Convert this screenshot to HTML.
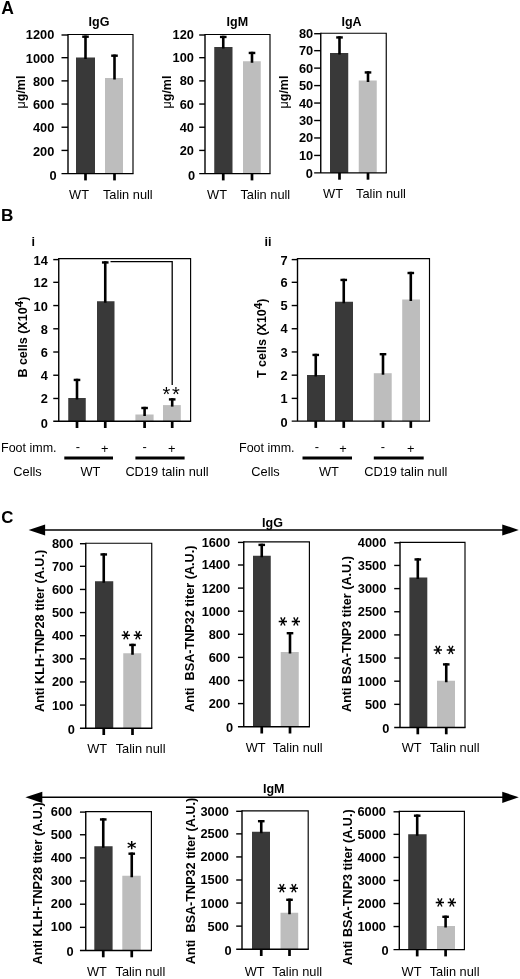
<!DOCTYPE html>
<html><head><meta charset="utf-8"><title>Figure</title>
<style>html,body{margin:0;padding:0;background:#fff}svg{display:block}</style></head>
<body>
<svg width="520" height="979" viewBox="0 0 520 979" font-family="'Liberation Sans', sans-serif" fill="#000">
<rect width="520" height="979" fill="#fff"/>
<text font-size="17.5" font-weight="bold" x="1.3" y="13.6">A</text>
<rect x="68" y="34.5" width="65" height="139.1" fill="#fff" stroke="none"/>
<rect x="76" y="57.5" width="19" height="116.1" fill="#393939"/>
<rect x="105" y="78" width="18" height="95.6" fill="#bdbdbd"/>
<path d="M85.5 59.0V35.5" stroke="#000" stroke-width="2.6" fill="none"/>
<path d="M82.2 36.7H88.8" stroke="#000" stroke-width="2.4" fill="none"/>
<path d="M85.5 173.6V180.4" stroke="#000" stroke-width="2.7" fill="none"/>
<path d="M114.5 79.5V54.5" stroke="#000" stroke-width="2.6" fill="none"/>
<path d="M111.2 55.7H117.8" stroke="#000" stroke-width="2.4" fill="none"/>
<path d="M114.5 173.6V180.4" stroke="#000" stroke-width="2.7" fill="none"/>
<path d="M68 34.5H133V173.6" stroke="#000" stroke-width="1.15" fill="none"/>
<path d="M68 173.6V33.93" stroke="#000" stroke-width="1.4" fill="none"/>
<path d="M61.5 173.6H133.57" stroke="#000" stroke-width="1.4" fill="none"/>
<path d="M61.5 35.0H68" stroke="#000" stroke-width="1.4" fill="none"/>
<text font-size="12.8" font-weight="bold" text-anchor="end" x="54.3" y="39.35">1200</text>
<path d="M61.5 57.68H68" stroke="#000" stroke-width="1.4" fill="none"/>
<text font-size="12.8" font-weight="bold" text-anchor="end" x="54.3" y="62.83">1000</text>
<path d="M61.5 80.87H68" stroke="#000" stroke-width="1.4" fill="none"/>
<text font-size="12.8" font-weight="bold" text-anchor="end" x="54.3" y="86.02">800</text>
<path d="M61.5 104.05H68" stroke="#000" stroke-width="1.4" fill="none"/>
<text font-size="12.8" font-weight="bold" text-anchor="end" x="54.3" y="109.2">600</text>
<path d="M61.5 127.23H68" stroke="#000" stroke-width="1.4" fill="none"/>
<text font-size="12.8" font-weight="bold" text-anchor="end" x="54.3" y="132.38">400</text>
<path d="M61.5 150.42H68" stroke="#000" stroke-width="1.4" fill="none"/>
<text font-size="12.8" font-weight="bold" text-anchor="end" x="54.3" y="155.57">200</text>
<text font-size="12.8" font-weight="bold" text-anchor="end" x="56.6" y="179.65">0</text>
<text font-size="12.5" font-weight="bold" text-anchor="middle" x="99" y="25.6">IgG</text>
<text font-size="12.5" font-weight="bold" text-anchor="middle" transform="translate(25 92) rotate(-90)"><tspan font-weight="normal">μ</tspan>g/ml</text>
<text font-size="12.8" text-anchor="middle" x="79" y="198.5">WT</text>
<text font-size="12.8" text-anchor="middle" x="127.8" y="198.5">Talin null</text>
<rect x="205" y="34.5" width="65" height="139.1" fill="#fff" stroke="none"/>
<rect x="214.25" y="47" width="18.25" height="126.6" fill="#393939"/>
<rect x="243" y="61.25" width="17.75" height="112.35" fill="#bdbdbd"/>
<path d="M223.25 48.5V35.75" stroke="#000" stroke-width="2.6" fill="none"/>
<path d="M219.95 36.95H226.55" stroke="#000" stroke-width="2.4" fill="none"/>
<path d="M223.25 173.6V180.4" stroke="#000" stroke-width="2.7" fill="none"/>
<path d="M252 62.75V51.75" stroke="#000" stroke-width="2.6" fill="none"/>
<path d="M248.7 52.95H255.3" stroke="#000" stroke-width="2.4" fill="none"/>
<path d="M252 173.6V180.4" stroke="#000" stroke-width="2.7" fill="none"/>
<path d="M205 34.5H270V173.6" stroke="#000" stroke-width="1.15" fill="none"/>
<path d="M205 173.6V33.93" stroke="#000" stroke-width="1.4" fill="none"/>
<path d="M199.2 173.6H270.57" stroke="#000" stroke-width="1.4" fill="none"/>
<path d="M199.2 35.0H205" stroke="#000" stroke-width="1.4" fill="none"/>
<text font-size="12.8" font-weight="bold" text-anchor="end" x="193.9" y="39.45">120</text>
<path d="M199.2 57.68H205" stroke="#000" stroke-width="1.4" fill="none"/>
<text font-size="12.8" font-weight="bold" text-anchor="end" x="193.9" y="62.13">100</text>
<path d="M199.2 80.87H205" stroke="#000" stroke-width="1.4" fill="none"/>
<text font-size="12.8" font-weight="bold" text-anchor="end" x="193.9" y="85.32">80</text>
<path d="M199.2 104.05H205" stroke="#000" stroke-width="1.4" fill="none"/>
<text font-size="12.8" font-weight="bold" text-anchor="end" x="193.9" y="108.5">60</text>
<path d="M199.2 127.23H205" stroke="#000" stroke-width="1.4" fill="none"/>
<text font-size="12.8" font-weight="bold" text-anchor="end" x="193.9" y="131.68">40</text>
<path d="M199.2 150.42H205" stroke="#000" stroke-width="1.4" fill="none"/>
<text font-size="12.8" font-weight="bold" text-anchor="end" x="193.9" y="154.87">20</text>
<text font-size="12.8" font-weight="bold" text-anchor="end" x="195.2" y="179.55">0</text>
<text font-size="12.5" font-weight="bold" text-anchor="middle" x="237.3" y="25.6">IgM</text>
<text font-size="12.5" font-weight="bold" text-anchor="middle" transform="translate(171 92) rotate(-90)"><tspan font-weight="normal">μ</tspan>g/ml</text>
<text font-size="12.8" text-anchor="middle" x="217" y="198.5">WT</text>
<text font-size="12.8" text-anchor="middle" x="265.3" y="198.5">Talin null</text>
<rect x="320.75" y="33.2" width="65.5" height="139.7" fill="#fff" stroke="none"/>
<rect x="330" y="53" width="18.25" height="119.9" fill="#393939"/>
<rect x="358.75" y="80.5" width="18.0" height="92.4" fill="#bdbdbd"/>
<path d="M339.5 54.5V36.25" stroke="#000" stroke-width="2.6" fill="none"/>
<path d="M336.2 37.45H342.8" stroke="#000" stroke-width="2.4" fill="none"/>
<path d="M339.5 172.9V179.7" stroke="#000" stroke-width="2.7" fill="none"/>
<path d="M368 82.0V71.25" stroke="#000" stroke-width="2.6" fill="none"/>
<path d="M364.7 72.45H371.3" stroke="#000" stroke-width="2.4" fill="none"/>
<path d="M368 172.9V179.7" stroke="#000" stroke-width="2.7" fill="none"/>
<path d="M320.75 33.2H386.25V172.9" stroke="#000" stroke-width="1.15" fill="none"/>
<path d="M320.75 172.9V32.63" stroke="#000" stroke-width="1.4" fill="none"/>
<path d="M314.15 172.9H386.82" stroke="#000" stroke-width="1.4" fill="none"/>
<path d="M314.15 33.7H320.75" stroke="#000" stroke-width="1.4" fill="none"/>
<text font-size="12.8" font-weight="bold" text-anchor="end" x="313.2" y="38.15">80</text>
<path d="M314.15 50.66H320.75" stroke="#000" stroke-width="1.4" fill="none"/>
<text font-size="12.8" font-weight="bold" text-anchor="end" x="313.2" y="55.11">70</text>
<path d="M314.15 68.12H320.75" stroke="#000" stroke-width="1.4" fill="none"/>
<text font-size="12.8" font-weight="bold" text-anchor="end" x="313.2" y="72.58">60</text>
<path d="M314.15 85.59H320.75" stroke="#000" stroke-width="1.4" fill="none"/>
<text font-size="12.8" font-weight="bold" text-anchor="end" x="313.2" y="90.04">50</text>
<path d="M314.15 103.05H320.75" stroke="#000" stroke-width="1.4" fill="none"/>
<text font-size="12.8" font-weight="bold" text-anchor="end" x="313.2" y="107.5">40</text>
<path d="M314.15 120.51H320.75" stroke="#000" stroke-width="1.4" fill="none"/>
<text font-size="12.8" font-weight="bold" text-anchor="end" x="313.2" y="124.96">30</text>
<path d="M314.15 137.97H320.75" stroke="#000" stroke-width="1.4" fill="none"/>
<text font-size="12.8" font-weight="bold" text-anchor="end" x="313.2" y="142.42">20</text>
<path d="M314.15 155.44H320.75" stroke="#000" stroke-width="1.4" fill="none"/>
<text font-size="12.8" font-weight="bold" text-anchor="end" x="313.2" y="159.89">10</text>
<text font-size="12.8" font-weight="bold" text-anchor="end" x="312.9" y="178.05">0</text>
<text font-size="12.5" font-weight="bold" text-anchor="middle" x="351.6" y="25.6">IgA</text>
<text font-size="12.5" font-weight="bold" text-anchor="middle" transform="translate(287.5 92) rotate(-90)"><tspan font-weight="normal">μ</tspan>g/ml</text>
<text font-size="12.8" text-anchor="middle" x="333" y="197.5">WT</text>
<text font-size="12.8" text-anchor="middle" x="381" y="197.5">Talin null</text>
<text font-size="17.2" font-weight="bold" x="1.0" y="220.7">B</text>
<text font-size="12.5" font-weight="bold" x="31.5" y="246.3">i</text>
<text font-size="12.5" font-weight="bold" x="264.5" y="246.3">ii</text>
<rect x="58.75" y="258.6" width="131.85" height="162.6" fill="#fff" stroke="none"/>
<rect x="68.25" y="398" width="17.5" height="23.2" fill="#393939"/>
<rect x="97" y="301.25" width="17.5" height="119.95" fill="#393939"/>
<rect x="135.4" y="414.5" width="18.2" height="6.7" fill="#bdbdbd"/>
<rect x="163" y="405.1" width="17.8" height="16.1" fill="#bdbdbd"/>
<path d="M77 399.5V378.75" stroke="#000" stroke-width="2.6" fill="none"/>
<path d="M73.7 379.95H80.3" stroke="#000" stroke-width="2.4" fill="none"/>
<path d="M77 421.2V428.0" stroke="#000" stroke-width="2.7" fill="none"/>
<path d="M105.25 302.75V261.25" stroke="#000" stroke-width="2.6" fill="none"/>
<path d="M101.95 262.45H108.55" stroke="#000" stroke-width="2.4" fill="none"/>
<path d="M105.25 421.2V428.0" stroke="#000" stroke-width="2.7" fill="none"/>
<path d="M144.6 416.0V406.8" stroke="#000" stroke-width="2.6" fill="none"/>
<path d="M141.3 408.0H147.9" stroke="#000" stroke-width="2.4" fill="none"/>
<path d="M144.6 421.2V428.0" stroke="#000" stroke-width="2.7" fill="none"/>
<path d="M172.2 406.6V398.2" stroke="#000" stroke-width="2.6" fill="none"/>
<path d="M168.9 399.4H175.5" stroke="#000" stroke-width="2.4" fill="none"/>
<path d="M172.2 421.2V428.0" stroke="#000" stroke-width="2.7" fill="none"/>
<path d="M58.75 258.6H190.6V421.2" stroke="#000" stroke-width="1.15" fill="none"/>
<path d="M58.75 421.2V258.03" stroke="#000" stroke-width="1.4" fill="none"/>
<path d="M53.25 421.2H191.17" stroke="#000" stroke-width="1.4" fill="none"/>
<path d="M53.25 259.6H58.75" stroke="#000" stroke-width="1.4" fill="none"/>
<text font-size="12.8" font-weight="bold" text-anchor="end" x="47.8" y="265.45">14</text>
<path d="M53.25 282.33H58.75" stroke="#000" stroke-width="1.4" fill="none"/>
<text font-size="12.8" font-weight="bold" text-anchor="end" x="47.8" y="287.28">12</text>
<path d="M53.25 305.56H58.75" stroke="#000" stroke-width="1.4" fill="none"/>
<text font-size="12.8" font-weight="bold" text-anchor="end" x="47.8" y="310.51">10</text>
<path d="M53.25 328.79H58.75" stroke="#000" stroke-width="1.4" fill="none"/>
<text font-size="12.8" font-weight="bold" text-anchor="end" x="47.8" y="333.74">8</text>
<path d="M53.25 352.01H58.75" stroke="#000" stroke-width="1.4" fill="none"/>
<text font-size="12.8" font-weight="bold" text-anchor="end" x="47.8" y="356.96">6</text>
<path d="M53.25 375.24H58.75" stroke="#000" stroke-width="1.4" fill="none"/>
<text font-size="12.8" font-weight="bold" text-anchor="end" x="47.8" y="380.19">4</text>
<path d="M53.25 398.47H58.75" stroke="#000" stroke-width="1.4" fill="none"/>
<text font-size="12.8" font-weight="bold" text-anchor="end" x="47.8" y="403.42">2</text>
<text font-size="12.8" font-weight="bold" text-anchor="end" x="47.8" y="427.55">0</text>
<path d="M110.5 261.6H172.2V385" stroke="#000" stroke-width="1.3" fill="none"/>
<rect x="297.5" y="258.6" width="132.0" height="162.5" fill="#fff" stroke="none"/>
<rect x="307" y="375" width="18" height="46.1" fill="#393939"/>
<rect x="335" y="301.75" width="18" height="119.35" fill="#393939"/>
<rect x="373.8" y="373.2" width="17.9" height="47.9" fill="#bdbdbd"/>
<rect x="402.2" y="299.5" width="17.8" height="121.6" fill="#bdbdbd"/>
<path d="M315.75 376.5V353.75" stroke="#000" stroke-width="2.6" fill="none"/>
<path d="M312.45 354.95H319.05" stroke="#000" stroke-width="2.4" fill="none"/>
<path d="M315.75 421.1V427.9" stroke="#000" stroke-width="2.7" fill="none"/>
<path d="M343.75 303.25V278.75" stroke="#000" stroke-width="2.6" fill="none"/>
<path d="M340.45 279.95H347.05" stroke="#000" stroke-width="2.4" fill="none"/>
<path d="M343.75 421.1V427.9" stroke="#000" stroke-width="2.7" fill="none"/>
<path d="M383 374.7V353" stroke="#000" stroke-width="2.6" fill="none"/>
<path d="M379.7 354.2H386.3" stroke="#000" stroke-width="2.4" fill="none"/>
<path d="M383 421.1V427.9" stroke="#000" stroke-width="2.7" fill="none"/>
<path d="M410.8 301.0V271.8" stroke="#000" stroke-width="2.6" fill="none"/>
<path d="M407.5 273.0H414.1" stroke="#000" stroke-width="2.4" fill="none"/>
<path d="M410.8 421.1V427.9" stroke="#000" stroke-width="2.7" fill="none"/>
<path d="M297.5 258.6H429.5V421.1" stroke="#000" stroke-width="1.15" fill="none"/>
<path d="M297.5 421.1V258.03" stroke="#000" stroke-width="1.4" fill="none"/>
<path d="M291.7 421.1H430.07" stroke="#000" stroke-width="1.4" fill="none"/>
<path d="M291.7 259.6H297.5" stroke="#000" stroke-width="1.4" fill="none"/>
<text font-size="12.8" font-weight="bold" text-anchor="end" x="287.6" y="265.25">7</text>
<path d="M291.7 282.31H297.5" stroke="#000" stroke-width="1.4" fill="none"/>
<text font-size="12.8" font-weight="bold" text-anchor="end" x="287.6" y="287.06">6</text>
<path d="M291.7 305.53H297.5" stroke="#000" stroke-width="1.4" fill="none"/>
<text font-size="12.8" font-weight="bold" text-anchor="end" x="287.6" y="310.28">5</text>
<path d="M291.7 328.74H297.5" stroke="#000" stroke-width="1.4" fill="none"/>
<text font-size="12.8" font-weight="bold" text-anchor="end" x="287.6" y="333.49">4</text>
<path d="M291.7 351.96H297.5" stroke="#000" stroke-width="1.4" fill="none"/>
<text font-size="12.8" font-weight="bold" text-anchor="end" x="287.6" y="356.71">3</text>
<path d="M291.7 375.17H297.5" stroke="#000" stroke-width="1.4" fill="none"/>
<text font-size="12.8" font-weight="bold" text-anchor="end" x="287.6" y="379.92">2</text>
<path d="M291.7 398.39H297.5" stroke="#000" stroke-width="1.4" fill="none"/>
<text font-size="12.8" font-weight="bold" text-anchor="end" x="287.6" y="403.14">1</text>
<text font-size="12.8" font-weight="bold" text-anchor="end" x="287.6" y="427.25">0</text>
<text font-size="12.5" x="1.0" y="452">Foot imm.</text>
<text font-size="12.8" x="13.3" y="475.6">Cells</text>
<text font-size="12.8" text-anchor="middle" x="77.8" y="451.3">-</text>
<text font-size="12.8" text-anchor="middle" x="104.8" y="452.6">+</text>
<text font-size="12.8" text-anchor="middle" x="144.6" y="451.3">-</text>
<text font-size="12.8" text-anchor="middle" x="171.7" y="452.6">+</text>
<path d="M64.3 458H113" stroke="#000" stroke-width="3"/>
<path d="M135.4 458H184.6" stroke="#000" stroke-width="3"/>
<text font-size="12.8" text-anchor="middle" x="90.35000000000001" y="475.6">WT</text>
<text font-size="12.8" text-anchor="middle" x="167" y="475.6">CD19 talin null</text>
<text font-size="12.5" x="239" y="452">Foot imm.</text>
<text font-size="12.8" x="251.3" y="475.6">Cells</text>
<text font-size="12.8" text-anchor="middle" x="317" y="451.3">-</text>
<text font-size="12.8" text-anchor="middle" x="343" y="452.6">+</text>
<text font-size="12.8" text-anchor="middle" x="383" y="451.3">-</text>
<text font-size="12.8" text-anchor="middle" x="410.8" y="452.6">+</text>
<path d="M302.5 458H352" stroke="#000" stroke-width="3"/>
<path d="M373.8 458H423.7" stroke="#000" stroke-width="3"/>
<text font-size="12.8" text-anchor="middle" x="328.95" y="475.6">WT</text>
<text font-size="12.8" text-anchor="middle" x="405.8" y="475.6">CD19 talin null</text>
<text transform="translate(27 377.6) rotate(-90)" font-size="12.5" font-weight="bold">B cells (X10<tspan font-size="11.8" dy="-3.7">4</tspan><tspan dy="3.7">)</tspan></text>
<text transform="translate(266 378) rotate(-90)" font-size="12.5" font-weight="bold">T cells (X10<tspan font-size="11.8" dy="-3.7">4</tspan><tspan dy="3.7">)</tspan></text>
<text x="162.6 171.9" y="401.2" font-size="20">**</text>
<text font-size="16.8" font-weight="bold" x="1.3" y="522.9">C</text>
<path d="M44.1 530H503.25" stroke="#000" stroke-width="1.5" fill="none"/>
<path d="M28.6 530L45.1 524.4V535.6Z" fill="#000"/>
<path d="M518.75 530L502.25 524.4V535.6Z" fill="#000"/>
<text font-size="12.5" font-weight="bold" text-anchor="middle" x="272.5" y="527">IgG</text>
<rect x="85.75" y="543.2" width="66.0" height="185.0" fill="#fff" stroke="none"/>
<rect x="95" y="581.25" width="18.25" height="146.95" fill="#393939"/>
<rect x="123.25" y="653.25" width="18.0" height="74.95" fill="#bdbdbd"/>
<path d="M103.75 582.75V553.25" stroke="#000" stroke-width="2.6" fill="none"/>
<path d="M100.45 554.45H107.05" stroke="#000" stroke-width="2.4" fill="none"/>
<path d="M103.75 728.2V735.0" stroke="#000" stroke-width="2.7" fill="none"/>
<path d="M132.5 654.75V643.75" stroke="#000" stroke-width="2.6" fill="none"/>
<path d="M129.2 644.95H135.8" stroke="#000" stroke-width="2.4" fill="none"/>
<path d="M132.5 728.2V735.0" stroke="#000" stroke-width="2.7" fill="none"/>
<path d="M85.75 543.2H151.75V728.2" stroke="#000" stroke-width="1.15" fill="none"/>
<path d="M85.75 728.2V542.63" stroke="#000" stroke-width="1.4" fill="none"/>
<path d="M79.95 728.2H152.32" stroke="#000" stroke-width="1.4" fill="none"/>
<path d="M79.95 543.7H85.75" stroke="#000" stroke-width="1.4" fill="none"/>
<text font-size="12.8" font-weight="bold" text-anchor="end" x="73.3" y="548.15">800</text>
<path d="M79.95 566.33H85.75" stroke="#000" stroke-width="1.4" fill="none"/>
<text font-size="12.8" font-weight="bold" text-anchor="end" x="73.3" y="570.78">700</text>
<path d="M79.95 589.45H85.75" stroke="#000" stroke-width="1.4" fill="none"/>
<text font-size="12.8" font-weight="bold" text-anchor="end" x="73.3" y="593.9">600</text>
<path d="M79.95 612.58H85.75" stroke="#000" stroke-width="1.4" fill="none"/>
<text font-size="12.8" font-weight="bold" text-anchor="end" x="73.3" y="617.03">500</text>
<path d="M79.95 635.7H85.75" stroke="#000" stroke-width="1.4" fill="none"/>
<text font-size="12.8" font-weight="bold" text-anchor="end" x="73.3" y="640.15">400</text>
<path d="M79.95 658.83H85.75" stroke="#000" stroke-width="1.4" fill="none"/>
<text font-size="12.8" font-weight="bold" text-anchor="end" x="73.3" y="663.28">300</text>
<path d="M79.95 681.95H85.75" stroke="#000" stroke-width="1.4" fill="none"/>
<text font-size="12.8" font-weight="bold" text-anchor="end" x="73.3" y="686.4">200</text>
<path d="M79.95 705.08H85.75" stroke="#000" stroke-width="1.4" fill="none"/>
<text font-size="12.8" font-weight="bold" text-anchor="end" x="73.3" y="709.53">100</text>
<text font-size="12.8" font-weight="bold" text-anchor="end" x="74.8" y="733.85">0</text>
<text transform="translate(43.8 712) rotate(-90)" font-size="12.65" font-weight="bold" xml:space="preserve">Anti KLH-TNP28 titer (A.U.)</text>
<text font-size="12.8" text-anchor="middle" x="97.2" y="752.8">WT</text>
<text font-size="12.8" text-anchor="middle" x="140.6" y="752.8">Talin null</text>
<text x="116.72 129.12" y="630.61" rotate="90" font-family="'DejaVu Sans', sans-serif" font-weight="bold" font-size="18.0">**</text>
<rect x="243.75" y="541.9" width="65.65" height="184.8" fill="#fff" stroke="none"/>
<rect x="253" y="555.75" width="17.75" height="170.95" fill="#393939"/>
<rect x="280.75" y="652" width="18.0" height="74.7" fill="#bdbdbd"/>
<path d="M261.75 557.25V543.7" stroke="#000" stroke-width="2.6" fill="none"/>
<path d="M258.45 544.9H265.05" stroke="#000" stroke-width="2.4" fill="none"/>
<path d="M261.75 726.7V733.5" stroke="#000" stroke-width="2.7" fill="none"/>
<path d="M290 653.5V632" stroke="#000" stroke-width="2.6" fill="none"/>
<path d="M286.7 633.2H293.3" stroke="#000" stroke-width="2.4" fill="none"/>
<path d="M290 726.7V733.5" stroke="#000" stroke-width="2.7" fill="none"/>
<path d="M243.75 541.9H309.4V726.7" stroke="#000" stroke-width="1.15" fill="none"/>
<path d="M243.75 726.7V541.33" stroke="#000" stroke-width="1.4" fill="none"/>
<path d="M237.95 726.7H309.97" stroke="#000" stroke-width="1.4" fill="none"/>
<path d="M237.95 542.4H243.75" stroke="#000" stroke-width="1.4" fill="none"/>
<text font-size="12.8" font-weight="bold" text-anchor="end" x="230.1" y="546.85">1600</text>
<path d="M237.95 565.0H243.75" stroke="#000" stroke-width="1.4" fill="none"/>
<text font-size="12.8" font-weight="bold" text-anchor="end" x="230.1" y="569.45">1400</text>
<path d="M237.95 588.1H243.75" stroke="#000" stroke-width="1.4" fill="none"/>
<text font-size="12.8" font-weight="bold" text-anchor="end" x="230.1" y="592.55">1200</text>
<path d="M237.95 611.2H243.75" stroke="#000" stroke-width="1.4" fill="none"/>
<text font-size="12.8" font-weight="bold" text-anchor="end" x="230.1" y="615.65">1000</text>
<path d="M237.95 634.3H243.75" stroke="#000" stroke-width="1.4" fill="none"/>
<text font-size="12.8" font-weight="bold" text-anchor="end" x="230.1" y="638.75">800</text>
<path d="M237.95 657.4H243.75" stroke="#000" stroke-width="1.4" fill="none"/>
<text font-size="12.8" font-weight="bold" text-anchor="end" x="230.1" y="661.85">600</text>
<path d="M237.95 680.5H243.75" stroke="#000" stroke-width="1.4" fill="none"/>
<text font-size="12.8" font-weight="bold" text-anchor="end" x="230.1" y="684.95">400</text>
<path d="M237.95 703.6H243.75" stroke="#000" stroke-width="1.4" fill="none"/>
<text font-size="12.8" font-weight="bold" text-anchor="end" x="230.1" y="708.05">200</text>
<text font-size="12.8" font-weight="bold" text-anchor="end" x="233.1" y="732.35">0</text>
<text transform="translate(194.3 712) rotate(-90)" font-size="12.65" font-weight="bold" xml:space="preserve">Anti  BSA-TNP32 titer (A.U.)</text>
<text font-size="12.8" text-anchor="middle" x="255.6" y="752">WT</text>
<text font-size="12.8" text-anchor="middle" x="297.7" y="752">Talin null</text>
<text x="274.47 286.77" y="616.66" rotate="90" font-family="'DejaVu Sans', sans-serif" font-weight="bold" font-size="18.0">**</text>
<rect x="400" y="542.3" width="65" height="185.2" fill="#fff" stroke="none"/>
<rect x="409.4" y="577.5" width="17.9" height="150.0" fill="#393939"/>
<rect x="437" y="680.75" width="18" height="46.75" fill="#bdbdbd"/>
<path d="M417.8 579.0V558.25" stroke="#000" stroke-width="2.6" fill="none"/>
<path d="M414.5 559.45H421.1" stroke="#000" stroke-width="2.4" fill="none"/>
<path d="M417.8 727.5V734.3" stroke="#000" stroke-width="2.7" fill="none"/>
<path d="M446.25 682.25V663.2" stroke="#000" stroke-width="2.6" fill="none"/>
<path d="M442.95 664.4H449.55" stroke="#000" stroke-width="2.4" fill="none"/>
<path d="M446.25 727.5V734.3" stroke="#000" stroke-width="2.7" fill="none"/>
<path d="M400 542.3H465V727.5" stroke="#000" stroke-width="1.15" fill="none"/>
<path d="M400 727.5V541.73" stroke="#000" stroke-width="1.4" fill="none"/>
<path d="M394.2 727.5H465.57" stroke="#000" stroke-width="1.4" fill="none"/>
<path d="M394.2 542.8H400" stroke="#000" stroke-width="1.4" fill="none"/>
<text font-size="12.8" font-weight="bold" text-anchor="end" x="386.3" y="547.25">4000</text>
<path d="M394.2 565.45H400" stroke="#000" stroke-width="1.4" fill="none"/>
<text font-size="12.8" font-weight="bold" text-anchor="end" x="386.3" y="569.9">3500</text>
<path d="M394.2 588.6H400" stroke="#000" stroke-width="1.4" fill="none"/>
<text font-size="12.8" font-weight="bold" text-anchor="end" x="386.3" y="593.05">3000</text>
<path d="M394.2 611.75H400" stroke="#000" stroke-width="1.4" fill="none"/>
<text font-size="12.8" font-weight="bold" text-anchor="end" x="386.3" y="616.2">2500</text>
<path d="M394.2 634.9H400" stroke="#000" stroke-width="1.4" fill="none"/>
<text font-size="12.8" font-weight="bold" text-anchor="end" x="386.3" y="639.35">2000</text>
<path d="M394.2 658.05H400" stroke="#000" stroke-width="1.4" fill="none"/>
<text font-size="12.8" font-weight="bold" text-anchor="end" x="386.3" y="662.5">1500</text>
<path d="M394.2 681.2H400" stroke="#000" stroke-width="1.4" fill="none"/>
<text font-size="12.8" font-weight="bold" text-anchor="end" x="386.3" y="685.65">1000</text>
<path d="M394.2 704.35H400" stroke="#000" stroke-width="1.4" fill="none"/>
<text font-size="12.8" font-weight="bold" text-anchor="end" x="386.3" y="708.8">500</text>
<text font-size="12.8" font-weight="bold" text-anchor="end" x="389.3" y="733.15">0</text>
<text transform="translate(351.3 712) rotate(-90)" font-size="12.65" font-weight="bold" xml:space="preserve">Anti BSA-TNP3 titer (A.U.)</text>
<text font-size="12.8" text-anchor="middle" x="411.6" y="752.3">WT</text>
<text font-size="12.8" text-anchor="middle" x="454.6" y="752.3">Talin null</text>
<text x="429.07 441.82" y="645.19" rotate="90" font-family="'DejaVu Sans', sans-serif" font-weight="bold" font-size="18.0">**</text>
<path d="M41.3 797.3H503.25" stroke="#000" stroke-width="1.5" fill="none"/>
<path d="M25.4 797.3L42.3 791.7V802.9Z" fill="#000"/>
<path d="M518.75 797.3L502.25 791.7V802.9Z" fill="#000"/>
<text font-size="12.5" font-weight="bold" text-anchor="middle" x="273.7" y="793.4">IgM</text>
<rect x="85.75" y="811.6" width="65.65" height="138.9" fill="#fff" stroke="none"/>
<rect x="94.3" y="846.25" width="18.3" height="104.25" fill="#393939"/>
<rect x="122.3" y="875.75" width="18.45" height="74.75" fill="#bdbdbd"/>
<path d="M103.25 847.75V818.25" stroke="#000" stroke-width="2.6" fill="none"/>
<path d="M99.95 819.45H106.55" stroke="#000" stroke-width="2.4" fill="none"/>
<path d="M103.25 950.5V957.3" stroke="#000" stroke-width="2.7" fill="none"/>
<path d="M131.75 877.25V852.5" stroke="#000" stroke-width="2.6" fill="none"/>
<path d="M128.45 853.7H135.05" stroke="#000" stroke-width="2.4" fill="none"/>
<path d="M131.75 950.5V957.3" stroke="#000" stroke-width="2.7" fill="none"/>
<path d="M85.75 811.6H151.4V950.5" stroke="#000" stroke-width="1.15" fill="none"/>
<path d="M85.75 950.5V811.03" stroke="#000" stroke-width="1.4" fill="none"/>
<path d="M79.95 950.5H151.97" stroke="#000" stroke-width="1.4" fill="none"/>
<path d="M79.95 812.1H85.75" stroke="#000" stroke-width="1.4" fill="none"/>
<text font-size="12.8" font-weight="bold" text-anchor="end" x="72.2" y="816.15">600</text>
<path d="M79.95 834.75H85.75" stroke="#000" stroke-width="1.4" fill="none"/>
<text font-size="12.8" font-weight="bold" text-anchor="end" x="72.2" y="838.8">500</text>
<path d="M79.95 857.9H85.75" stroke="#000" stroke-width="1.4" fill="none"/>
<text font-size="12.8" font-weight="bold" text-anchor="end" x="72.2" y="861.95">400</text>
<path d="M79.95 881.05H85.75" stroke="#000" stroke-width="1.4" fill="none"/>
<text font-size="12.8" font-weight="bold" text-anchor="end" x="72.2" y="885.1">300</text>
<path d="M79.95 904.2H85.75" stroke="#000" stroke-width="1.4" fill="none"/>
<text font-size="12.8" font-weight="bold" text-anchor="end" x="72.2" y="908.25">200</text>
<path d="M79.95 927.35H85.75" stroke="#000" stroke-width="1.4" fill="none"/>
<text font-size="12.8" font-weight="bold" text-anchor="end" x="72.2" y="931.4">100</text>
<text font-size="12.8" font-weight="bold" text-anchor="end" x="73.7" y="955.75">0</text>
<text transform="translate(41.5 964.5) rotate(-90)" font-size="12.65" font-weight="bold" xml:space="preserve">Anti KLH-TNP28 titer (A.U.)</text>
<text font-size="12.8" text-anchor="middle" x="96.9" y="975.5">WT</text>
<text font-size="12.8" text-anchor="middle" x="140.4" y="975.5">Talin null</text>
<text x="131.75" y="854.4" text-anchor="middle" font-family="'DejaVu Sans', sans-serif" font-weight="bold" font-size="18">*</text>
<rect x="242" y="810.8" width="66.2" height="138.4" fill="#fff" stroke="none"/>
<rect x="252" y="831.75" width="18" height="117.45" fill="#393939"/>
<rect x="280.5" y="912.75" width="17.7" height="36.45" fill="#bdbdbd"/>
<path d="M261.25 833.25V820" stroke="#000" stroke-width="2.6" fill="none"/>
<path d="M257.95 821.2H264.55" stroke="#000" stroke-width="2.4" fill="none"/>
<path d="M261.25 949.2V956.0" stroke="#000" stroke-width="2.7" fill="none"/>
<path d="M289.5 914.25V898.6" stroke="#000" stroke-width="2.6" fill="none"/>
<path d="M286.2 899.8H292.8" stroke="#000" stroke-width="2.4" fill="none"/>
<path d="M289.5 949.2V956.0" stroke="#000" stroke-width="2.7" fill="none"/>
<path d="M242 810.8H308.2V949.2" stroke="#000" stroke-width="1.15" fill="none"/>
<path d="M242 949.2V810.23" stroke="#000" stroke-width="1.4" fill="none"/>
<path d="M236.2 949.2H308.77" stroke="#000" stroke-width="1.4" fill="none"/>
<path d="M236.2 811.3H242" stroke="#000" stroke-width="1.4" fill="none"/>
<text font-size="12.8" font-weight="bold" text-anchor="end" x="228.9" y="815.75">3000</text>
<path d="M236.2 833.87H242" stroke="#000" stroke-width="1.4" fill="none"/>
<text font-size="12.8" font-weight="bold" text-anchor="end" x="228.9" y="838.32">2500</text>
<path d="M236.2 856.93H242" stroke="#000" stroke-width="1.4" fill="none"/>
<text font-size="12.8" font-weight="bold" text-anchor="end" x="228.9" y="861.38">2000</text>
<path d="M236.2 880.0H242" stroke="#000" stroke-width="1.4" fill="none"/>
<text font-size="12.8" font-weight="bold" text-anchor="end" x="228.9" y="884.45">1500</text>
<path d="M236.2 903.07H242" stroke="#000" stroke-width="1.4" fill="none"/>
<text font-size="12.8" font-weight="bold" text-anchor="end" x="228.9" y="907.52">1000</text>
<path d="M236.2 926.13H242" stroke="#000" stroke-width="1.4" fill="none"/>
<text font-size="12.8" font-weight="bold" text-anchor="end" x="228.9" y="930.58">500</text>
<text font-size="12.8" font-weight="bold" text-anchor="end" x="231.6" y="954.85">0</text>
<text transform="translate(195.3 964.2) rotate(-90)" font-size="12.65" font-weight="bold" xml:space="preserve">Anti  BSA-TNP32 titer (A.U.)</text>
<text font-size="12.8" text-anchor="middle" x="254.6" y="975.5">WT</text>
<text font-size="12.8" text-anchor="middle" x="297.2" y="975.5">Talin null</text>
<text x="272.97 285.17" y="883.51" rotate="90" font-family="'DejaVu Sans', sans-serif" font-weight="bold" font-size="18.0">**</text>
<rect x="399.3" y="811.3" width="65.1" height="138.3" fill="#fff" stroke="none"/>
<rect x="408.2" y="834.25" width="18.4" height="115.35" fill="#393939"/>
<rect x="437" y="926" width="18" height="23.6" fill="#bdbdbd"/>
<path d="M417.2 835.75V814.5" stroke="#000" stroke-width="2.6" fill="none"/>
<path d="M413.9 815.7H420.5" stroke="#000" stroke-width="2.4" fill="none"/>
<path d="M417.2 949.6V956.4" stroke="#000" stroke-width="2.7" fill="none"/>
<path d="M445.6 927.5V915.6" stroke="#000" stroke-width="2.6" fill="none"/>
<path d="M442.3 916.8H448.9" stroke="#000" stroke-width="2.4" fill="none"/>
<path d="M445.6 949.6V956.4" stroke="#000" stroke-width="2.7" fill="none"/>
<path d="M399.3 811.3H464.4V949.6" stroke="#000" stroke-width="1.15" fill="none"/>
<path d="M399.3 949.6V810.73" stroke="#000" stroke-width="1.4" fill="none"/>
<path d="M393.5 949.6H464.97" stroke="#000" stroke-width="1.4" fill="none"/>
<path d="M393.5 811.8H399.3" stroke="#000" stroke-width="1.4" fill="none"/>
<text font-size="12.8" font-weight="bold" text-anchor="end" x="385.9" y="816.25">6000</text>
<path d="M393.5 834.35H399.3" stroke="#000" stroke-width="1.4" fill="none"/>
<text font-size="12.8" font-weight="bold" text-anchor="end" x="385.9" y="838.8">5000</text>
<path d="M393.5 857.4H399.3" stroke="#000" stroke-width="1.4" fill="none"/>
<text font-size="12.8" font-weight="bold" text-anchor="end" x="385.9" y="861.85">4000</text>
<path d="M393.5 880.45H399.3" stroke="#000" stroke-width="1.4" fill="none"/>
<text font-size="12.8" font-weight="bold" text-anchor="end" x="385.9" y="884.9">3000</text>
<path d="M393.5 903.5H399.3" stroke="#000" stroke-width="1.4" fill="none"/>
<text font-size="12.8" font-weight="bold" text-anchor="end" x="385.9" y="907.95">2000</text>
<path d="M393.5 926.55H399.3" stroke="#000" stroke-width="1.4" fill="none"/>
<text font-size="12.8" font-weight="bold" text-anchor="end" x="385.9" y="931.0">1000</text>
<text font-size="12.8" font-weight="bold" text-anchor="end" x="388.6" y="955.25">0</text>
<text transform="translate(352.3 965.2) rotate(-90)" font-size="12.65" font-weight="bold" xml:space="preserve">Anti BSA-TNP3 titer (A.U.)</text>
<text font-size="12.8" text-anchor="middle" x="411.5" y="975.5">WT</text>
<text font-size="12.8" text-anchor="middle" x="454.6" y="975.5">Talin null</text>
<text x="430.67 442.82" y="897.76" rotate="90" font-family="'DejaVu Sans', sans-serif" font-weight="bold" font-size="18.0">**</text>
</svg>
</body></html>
